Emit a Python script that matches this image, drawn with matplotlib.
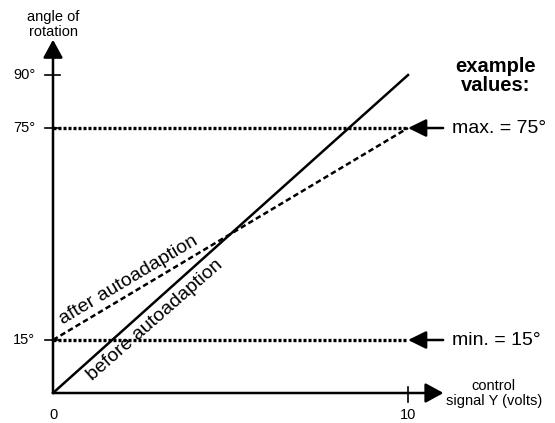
import numpy as np
import matplotlib.pyplot as plt

plt.rcParams['font.family'] = ['Liberation Sans', 'DejaVu Sans']

# data
signal = [0, 10]
before_adapt = [0, 90]      # angle before autoadaption
after_adapt = [15, 75]      # angle after autoadaption
y_ticks = [90, 75, 15]
y_tick_labels = ['90°', '75°', '15°']
x_ticks = [0, 10]
x_tick_labels = ['0', '10']
limit_max = 75
limit_min = 15

# pixel mapping of the original drawing (origin at px 53, 393)
px_x0, px_y0 = 53, 393
sx, sy = 35.5, 3.533
W, H = 555, 423

fig = plt.figure(figsize=(W / 100, H / 100), dpi=100)
ax = fig.add_axes([0, 0, 1, 1])
ax.set_xlim(-px_x0 / sx, (W - px_x0) / sx)
ax.set_ylim(-(H - px_y0) / sy, px_y0 / sy)
ax.axis('off')

# axes with arrow heads
arrow_kw = dict(arrowstyle='-|>,head_length=0.55,head_width=0.3', color='black',
                lw=1.8, mutation_scale=20, shrinkA=0, shrinkB=0)
ax.annotate('', xy=(0, 100), xytext=(0, 0), arrowprops=arrow_kw)
ax.annotate('', xy=(11, 0), xytext=(0, 0), arrowprops=arrow_kw)

# ticks
for yt, lab in zip(y_ticks, y_tick_labels):
    ax.plot([-0.23, 0.2], [yt, yt], color='black', lw=1.2)
    ax.text(-0.5, yt, lab, ha='right', va='center', fontsize=10.5)
for xt, lab in zip(x_ticks, x_tick_labels):
    if xt != 0:
        ax.plot([xt, xt], [1.7, -2.5], color='black', lw=1.2)
    ax.text(xt, -6.2, lab, ha='center', va='center', fontsize=10.5)

# axis titles
ax.text(0, 104.3, 'angle of\nrotation', ha='center', va='center', fontsize=10.5,
        linespacing=1.1)
ax.text(12.42, -0.2, 'control\nsignal Y (volts)', ha='center', va='center',
        fontsize=10.5, linespacing=1.05)

# limit lines
dot_kw = dict(color='black', lw=2.4, linestyle=(0, (0.9, 0.6)), solid_capstyle='butt')
ax.plot([0, 10.0], [limit_max, limit_max], **dot_kw)
ax.plot([0, 10.0], [limit_min, limit_min], **dot_kw)

# characteristic lines
ax.plot(signal, before_adapt, color='black', lw=1.8)
ax.plot(signal, after_adapt, color='black', lw=1.8, linestyle=(0, (2.2, 1.3)))

# line labels, parallel to the lines
def screen_angle(xs, ys):
    p = ax.transData.transform(np.column_stack([xs, ys]))
    return np.degrees(np.arctan2(p[1, 1] - p[0, 1], p[1, 0] - p[0, 0]))

ax.text(0.28, 19.5, 'after autoadaption', rotation=screen_angle(signal, after_adapt),
        rotation_mode='anchor', ha='left', va='baseline', fontsize=14)
ax.text(1.1, 3.5, 'before autoadaption', rotation=screen_angle(signal, before_adapt) - 0.6,
        rotation_mode='anchor', ha='left', va='baseline', fontsize=14)

# example values
small_arrow = dict(arrowstyle='-|>,head_length=0.55,head_width=0.27', color='black',
                   lw=1.8, mutation_scale=20, shrinkA=0, shrinkB=0)
ax.annotate('', xy=(10.0, limit_max), xytext=(10.99, limit_max), arrowprops=small_arrow)
ax.annotate('', xy=(10.0, limit_min), xytext=(10.99, limit_min), arrowprops=small_arrow)
ax.text(11.24, limit_max, 'max. = 75°', ha='left', va='center', fontsize=14)
ax.text(11.24, limit_min, 'min. = 15°', ha='left', va='center', fontsize=14)
ax.text(12.48, 89.7, 'example\nvalues:', ha='center', va='center', fontsize=14.5,
        fontweight='bold', linespacing=1.05)

fig.savefig('out.png', dpi=100)
